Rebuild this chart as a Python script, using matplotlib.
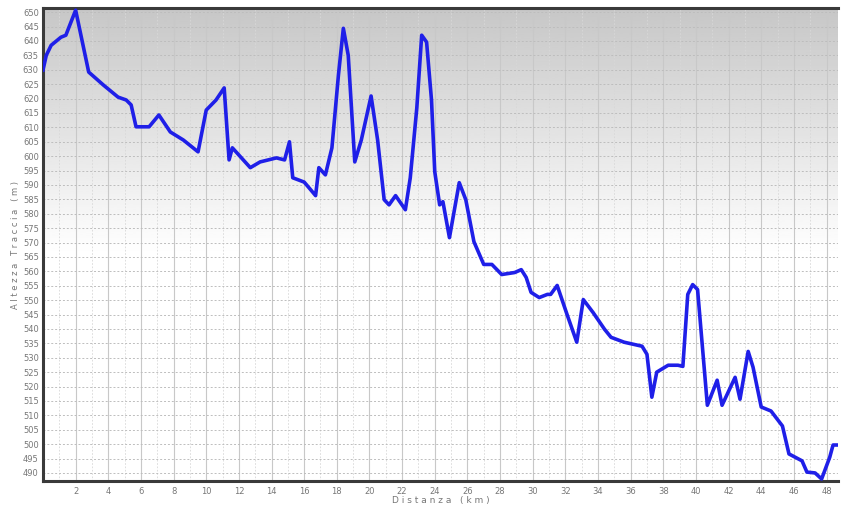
import numpy as np
import matplotlib
matplotlib.use("Agg")
import matplotlib.pyplot as plt

# profilo altimetrico: distanza (km) e quota (m)
distanza = [0.0, 0.2, 0.5, 1.1, 1.4, 2.0, 2.8, 3.7, 4.6, 5.1, 5.4, 5.7, 6.5, 7.1, 7.8,
            8.6, 9.5, 10.0, 10.6, 11.1, 11.4, 11.6, 12.7, 13.3, 14.3, 14.8, 15.1, 15.3,
            16.0, 16.3, 16.7, 16.9, 17.3, 17.7, 18.1, 18.4, 18.7, 19.1, 19.5, 20.1, 20.5,
            20.9, 21.2, 21.6, 22.2, 22.5, 22.9, 23.2, 23.5, 23.8, 24.0, 24.3, 24.5, 24.9,
            25.5, 25.9, 26.4, 27.0, 27.5, 28.1, 28.9, 29.3, 29.6, 29.9, 30.4, 30.9, 31.1,
            31.5, 32.1, 32.7, 33.1, 33.7, 34.4, 34.8, 35.6, 36.7, 37.0, 37.3, 37.6, 38.3,
            38.9, 39.2, 39.5, 39.8, 40.1, 40.7, 41.3, 41.6, 42.4, 42.7, 43.2, 43.5, 44.0,
            44.6, 45.3, 45.7, 46.5, 46.8, 47.3, 47.7, 48.2, 48.4, 48.7]
quota = [629.9, 635.0, 638.5, 641.3, 642.0, 650.7, 629.2, 624.7, 620.5, 619.5, 617.8,
         610.2, 610.2, 614.3, 608.4, 605.6, 601.5, 616.0, 619.5, 623.7, 598.7, 602.9,
         596.0, 598.0, 599.4, 598.7, 605.0, 592.5, 591.0, 589.0, 586.3, 596.0, 593.5,
         602.9, 628.2, 644.4, 635.0, 598.0, 605.6, 620.9, 605.6, 584.9, 583.1, 586.3,
         581.4, 592.5, 616.7, 642.0, 639.6, 619.5, 594.6, 583.1, 584.2, 571.7, 590.8,
         584.9, 570.3, 562.4, 562.4, 558.9, 559.6, 560.6, 557.9, 552.7, 550.9, 552.0,
         552.0, 555.1, 545.1, 535.4, 550.2, 545.7, 539.9, 537.1, 535.4, 534.0, 531.2,
         516.3, 525.0, 527.4, 527.4, 527.0, 552.0, 555.4, 553.7, 513.5, 522.2, 513.5,
         523.2, 515.6, 532.2, 526.7, 512.9, 511.5, 506.3, 496.6, 494.2, 490.3, 490.0,
         487.9, 495.5, 499.7, 499.7]

y_ticks = list(range(490, 651, 5))
x_ticks = list(range(2, 49, 2))

fig = plt.figure(figsize=(8.43, 5.09), dpi=100)
fig.patch.set_facecolor("white")
ax = fig.add_axes([0.051, 0.055, 0.943, 0.929])

xmin, xmax = 0, 48.7
ymin, ymax = 487.2, 651.4

# sfondo sfumato: grigio in alto, bianco dalla metà in giù
t = np.linspace(0, 1, 256).reshape(-1, 1)   # 0 = basso, 1 = alto
vals = 1.0 - 0.22 * np.clip((t - 0.48) / 0.52, 0, 1)
ax.imshow(vals, extent=[xmin, xmax, ymin, ymax], aspect="auto", cmap="gray",
          vmin=0, vmax=1, zorder=0, origin="lower")

ax.set_xlim(xmin, xmax)
ax.set_ylim(ymin, ymax)

# griglia
ax.set_xticks(x_ticks)
ax.set_xticks(range(1, 49, 2), minor=True)
ax.set_yticks(y_ticks)
ax.grid(True, axis="x", which="major", color="#c8c8c8", linewidth=0.8, zorder=1)
ax.grid(True, axis="x", which="minor", color="#d8d8d8", linewidth=0.6,
        linestyle=(0, (2, 2)), zorder=1)
ax.grid(True, axis="y", which="major", color="#bdbdbd", linewidth=0.7,
        linestyle=(0, (2, 2)), zorder=1)

ax.plot(distanza, quota, color="#1f1fe8", linewidth=2.6, zorder=3,
        solid_joinstyle="round")

ax.tick_params(axis="both", which="both", length=0, labelsize=6, colors="#777777")
ax.tick_params(axis="x", pad=4)
ax.tick_params(axis="y", pad=3)

for s in ["left", "bottom", "top"]:
    ax.spines[s].set_color("#3a3a3a")
    ax.spines[s].set_linewidth(2.2)
ax.spines["right"].set_visible(False)

ax.set_xlabel("D i s t a n z a   ( k m )", fontsize=6.5, color="#777777", labelpad=0)
ax.set_ylabel("A l t e z z a   T r a c c i a   ( m )", fontsize=6, color="#777777",
              labelpad=2)

fig.savefig("out.png", dpi=100)
